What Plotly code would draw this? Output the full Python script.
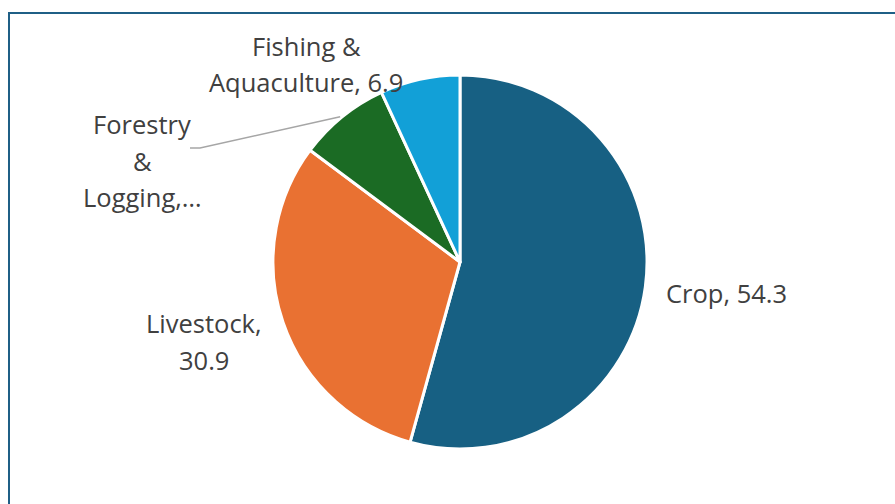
import math
import plotly.graph_objects as go

categories = ["Crop", "Livestock", "Forestry & Logging", "Fishing & Aquaculture"]
values = [54.3, 30.9, 7.9, 6.9]
colors = ["#176083", "#E97132", "#1B6B24", "#12A0D7"]

W, H = 895, 504
CX, CY, R = 460, 262, 187  # pie centre/radius in pixels

def px(x):
    return x / W

def py(y):
    return 1 - y / H

fig = go.Figure(go.Pie(
    labels=categories,
    values=values,
    sort=False,
    direction="clockwise",
    rotation=0,
    marker=dict(colors=colors, line=dict(color="white", width=3)),
    textinfo="none",
    hoverinfo="label+value",
    domain=dict(x=[px(CX - R), px(CX + R)], y=[py(CY + R), py(CY - R)]),
    showlegend=False,
))

font = dict(family="Open Sans, DejaVu Sans, sans-serif", size=25.5, color="#404040")

# label lines: (text lines, centre x, first-line centre y)
label_lines = {
    "Crop": ([f"Crop, {values[0]}"], 726, 293),
    "Livestock": (["Livestock,", f"{values[1]}"], 204, 323),
    "Forestry": (["Forestry", "&", "Logging,…"], 142, 124),
    "Fishing": (["Fishing &", f"Aquaculture, {values[3]}"], 306, 46),
}
LS = 36.5
annotations = []
for key, (lines, x, y0) in label_lines.items():
    for i, t in enumerate(lines):
        annotations.append(dict(
            x=px(x), y=py(y0 + i * LS), xref="paper", yref="paper",
            text=t, showarrow=False, font=font, xanchor="center", yanchor="middle",
        ))

# leader line for Forestry label, to the mid-angle of its slice
start = sum(values[:2]) / sum(values)
mid = (start + values[2] / sum(values) / 2) * 2 * math.pi
ex = CX + R * math.sin(mid)
ey = CY - R * math.cos(mid)
shapes = [
    dict(type="path", xref="paper", yref="paper",
         path=f"M {px(190)},{py(148)} L {px(200)},{py(148)} L {px(ex - 2)},{py(ey)}",
         line=dict(color="#A6A6A6", width=1.5)),
    dict(type="rect", xref="paper", yref="paper",
         x0=px(9), y0=py(13), x1=px(W + 5), y1=py(H + 5),
         line=dict(color="#1F5F86", width=2), fillcolor="rgba(0,0,0,0)"),
]

fig.update_layout(
    width=W, height=H,
    margin=dict(l=0, r=0, t=0, b=0),
    paper_bgcolor="white", plot_bgcolor="white",
    annotations=annotations, shapes=shapes,
)

fig.write_html("out.html")
